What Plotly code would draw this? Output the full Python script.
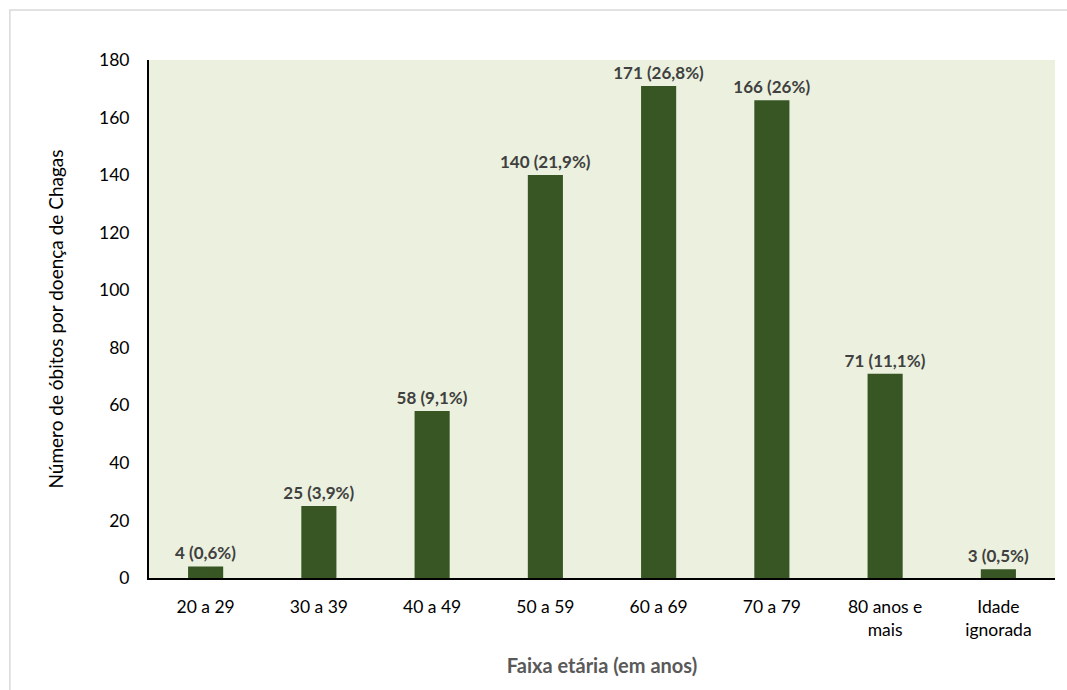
import plotly.graph_objects as go

# Deaths from Chagas disease by age group
categories = ["20 a 29", "30 a 39", "40 a 49", "50 a 59", "60 a 69", "70 a 79",
              "80 anos e<br>mais", "Idade<br>ignorada"]
deaths = [4, 25, 58, 140, 171, 166, 71, 3]
percent_labels = ["0,6%", "3,9%", "9,1%", "21,9%", "26,8%", "26%", "11,1%", "0,5%"]
y_ticks = [0, 20, 40, 60, 80, 100, 120, 140, 160, 180]

bar_text = [f"{v} ({p})" for v, p in zip(deaths, percent_labels)]

FONT = "Lato, Calibri, Carlito, sans-serif"

fig = go.Figure(
    go.Bar(
        x=categories,
        y=deaths,
        marker=dict(color="#375623", line=dict(width=0)),
        text=bar_text,
        textposition="outside",
        constraintext="none",
        cliponaxis=False,
        textfont=dict(family=FONT, size=17, color="#404040", weight="bold"),
    )
)

fig.update_layout(
    width=1067,
    height=690,
    margin=dict(l=149, r=12, t=60, b=112),
    paper_bgcolor="white",
    plot_bgcolor="#EBF1DE",
    bargap=0.69,
    showlegend=False,
    font=dict(family=FONT, size=17, color="#000000"),
    xaxis=dict(
        showline=True,
        linecolor="#000000",
        linewidth=2,
        showgrid=False,
        ticks="",
        ticklabelstandoff=12,
        tickfont=dict(family=FONT, size=17.5, color="#000000"),
        title=dict(
            text="Faixa etária (em anos)",
            font=dict(family=FONT, size=20, color="#595959", weight="bold"),
            standoff=20,
        ),
    ),
    yaxis=dict(
        range=[0, 180],
        tickvals=y_ticks,
        showline=True,
        linecolor="#000000",
        linewidth=2,
        showgrid=False,
        zeroline=False,
        ticks="",
        ticklabelstandoff=14,
        tickfont=dict(family=FONT, size=17.5, color="#000000"),
        title=dict(
            text="Número de óbitos por doença de Chagas",
            font=dict(family=FONT, size=19, color="#000000"),
            standoff=30,
        ),
    ),
    shapes=[
        dict(
            type="rect", xref="paper", yref="paper",
            x0=-141 / 918, x1=1.2, y0=-0.3, y1=1 + 50 / 518,
            line=dict(color="#D9D9D9", width=1.5),
            fillcolor="rgba(0,0,0,0)", layer="below",
        )
    ],
)

fig.write_html("out.html")
